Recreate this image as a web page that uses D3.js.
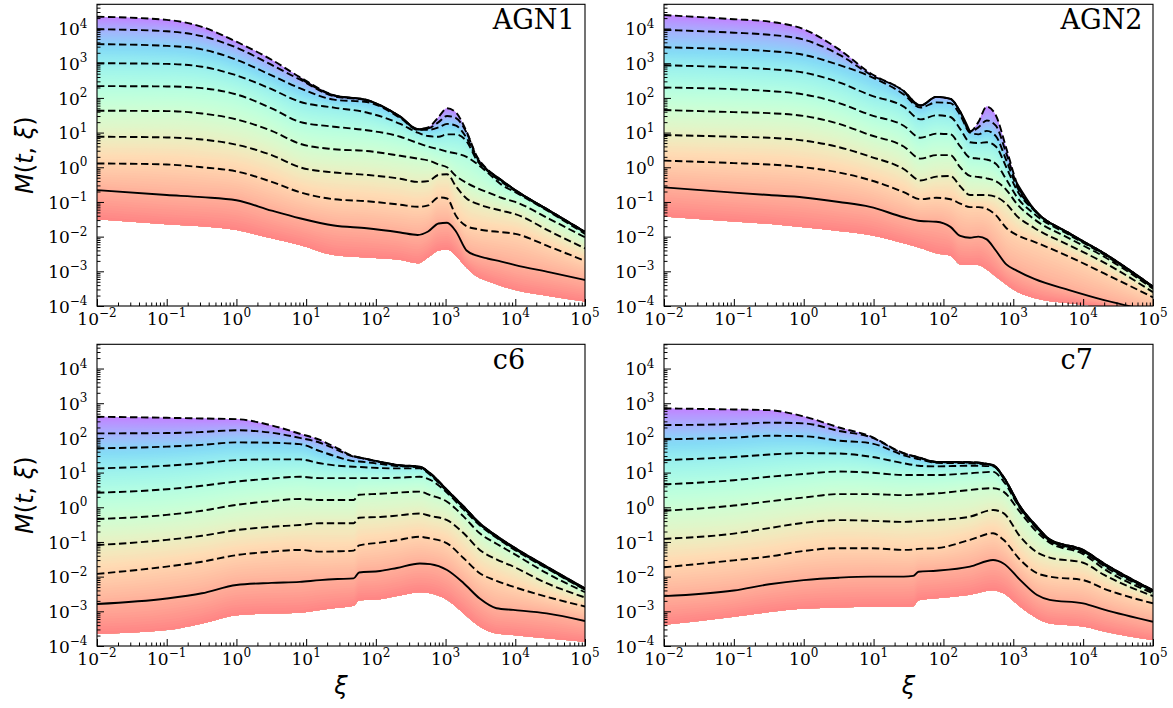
<!DOCTYPE html>
<html><head><meta charset="utf-8">
<script src="https://cdn.jsdelivr.net/npm/d3@7"></script>
<style>body{margin:0;background:#fff} svg{display:block}</style>
</head><body>
<svg id="chart" width="1173" height="708"></svg>
<script>
// ---------------- DATA ----------------
const xTickValues = [1e-2, 1e-1, 1, 1e1, 1e2, 1e3, 1e4, 1e5];
const xTickExps   = ["\u22122", "\u22121", "0", "1", "2", "3", "4", "5"];
const yTickValues = [1e-4, 1e-3, 1e-2, 1e-1, 1, 1e1, 1e2, 1e3, 1e4];
const yTickExps   = ["\u22124", "\u22123", "\u22122", "\u22121", "0", "1", "2", "3", "4"];
const panelLabels = ["AGN1", "AGN2", "c6", "c7"];

// AGN1
const agn1Xi = [0.01, 0.1, 0.32, 1, 3.2, 8.1, 25, 74, 224, 398, 562, 794, 1050, 1410, 2000, 2820, 3980, 6310, 1e4, 3.16e4, 1e5];
const agn1Dashed = [
  [21900, 17800, 11200, 4170, 1260, 398, 120, 87.1, 28.8, 12.6, 14.1, 28.2, 50.1, 38.0, 10.7, 2.04, 0.871, 0.427, 0.219, 0.055, 0.0138],
  [9550, 8320, 6030, 2820, 891, 339, 112, 85.1, 28.2, 12.3, 13.2, 20.0, 30.2, 26.3, 10.0, 1.91, 0.832, 0.417, 0.219, 0.055, 0.0138],
  [3550, 3160, 2510, 1260, 447, 191, 89.1, 75.9, 26.3, 12.0, 12.0, 14.1, 17.8, 15.8, 7.08, 1.78, 0.813, 0.398, 0.214, 0.0537, 0.0135],
  [1000, 955, 794, 447, 178, 77.6, 52.5, 38.0, 17.8, 10.0, 7.94, 7.59, 8.91, 8.91, 5.62, 1.58, 0.794, 0.380, 0.209, 0.0525, 0.0132],
  [219, 214, 191, 126, 50.1, 20.4, 14.8, 11.7, 7.59, 5.01, 3.98, 3.31, 2.82, 2.51, 2.00, 1.26, 0.708, 0.316, 0.191, 0.0501, 0.0120],
  [42.7, 41.7, 35.5, 24.0, 11.2, 4.79, 3.31, 2.95, 2.14, 1.78, 1.58, 1.20, 1.0, 0.562, 0.355, 0.251, 0.191, 0.132, 0.100, 0.0316, 0.00955],
  [7.59, 7.24, 6.31, 4.47, 2.24, 1.0, 0.708, 0.603, 0.468, 0.380, 0.398, 0.603, 0.631, 0.282, 0.126, 0.0891, 0.0708, 0.0562, 0.0447, 0.0141, 0.00457],
  [1.29, 1.20, 1.0, 0.759, 0.380, 0.191, 0.120, 0.105, 0.0832, 0.0724, 0.0794, 0.135, 0.126, 0.0398, 0.0200, 0.0166, 0.0148, 0.0135, 0.0120, 0.00501, 0.00200]
];
const agn1Initial = [0.219, 0.158, 0.138, 0.112, 0.0562, 0.0339, 0.0209, 0.0174, 0.0132, 0.0112, 0.0141, 0.0240, 0.0251, 0.0141, 0.00398, 0.00282, 0.00234, 0.00191, 0.00151, 0.000933, 0.000562];
const agn1Final = [null, null, null, null, null, 372, 117, 87.1, 28.8, 12.6, 13.2, null, null, null, null, null, 0.832, 0.427, 0.219, 0.055, 0.0138];
const agn1Lower = [0.0316, 0.0229, 0.0200, 0.0155, 0.00891, 0.00575, 0.00295, 0.00251, 0.00214, 0.00170, 0.00251, 0.00398, 0.00427, 0.00282, 0.00126, 0.000708, 0.000525, 0.00038, 0.000288, 0.000191, 0.000135];

// AGN2
const agn2Xi = [0.01, 0.1, 0.32, 1, 3.2, 8.9, 27, 47, 79, 126, 174, 240, 316, 417, 562, 794, 1120, 2000, 6310, 2e4, 1e5];
const agn2Dashed = [
  [24500, 18600, 15800, 9550, 2510, 525, 158, 60.3, 107, 93.3, 39.8, 10.7, 20.0, 56.2, 31.6, 3.55, 0.355, 0.0603, 0.0126, 0.00331, 0.000363],
  [9120, 7590, 6610, 4790, 1780, 479, 158, 60.3, 107, 93.3, 39.8, 10.7, 14.1, 22.4, 15.8, 2.51, 0.316, 0.0603, 0.0126, 0.00331, 0.000363],
  [2880, 2510, 2240, 1740, 891, 417, 126, 52.5, 74.1, 70.8, 31.6, 10.0, 8.91, 11.2, 7.94, 1.58, 0.282, 0.0589, 0.0123, 0.00324, 0.000355],
  [871, 759, 676, 537, 282, 120, 56.2, 24.0, 31.6, 28.2, 12.6, 5.25, 5.01, 5.25, 3.98, 1.0, 0.224, 0.0562, 0.0120, 0.00316, 0.000347],
  [200, 178, 158, 126, 70.8, 32.4, 15.8, 7.08, 9.33, 8.91, 3.98, 1.91, 1.78, 1.66, 1.26, 0.447, 0.141, 0.0447, 0.0112, 0.00302, 0.000339],
  [44.7, 38.9, 36.3, 30.2, 17.8, 8.51, 3.98, 1.78, 2.24, 2.24, 1.0, 0.562, 0.525, 0.479, 0.398, 0.224, 0.0891, 0.0316, 0.00891, 0.00263, 0.000316],
  [8.51, 7.59, 7.08, 5.89, 3.80, 2.04, 0.891, 0.417, 0.537, 0.562, 0.282, 0.158, 0.158, 0.158, 0.141, 0.0891, 0.0398, 0.0178, 0.00562, 0.00178, 0.000251],
  [1.55, 1.32, 1.20, 1.0, 0.708, 0.427, 0.191, 0.120, 0.132, 0.120, 0.0891, 0.0708, 0.0708, 0.0631, 0.0417, 0.0178, 0.0112, 0.00708, 0.00263, 0.000871, 0.000178]
];
const agn2Initial = [0.263, 0.186, 0.158, 0.135, 0.100, 0.0724, 0.0363, 0.0282, 0.0269, 0.0191, 0.0105, 0.00933, 0.0100, 0.00832, 0.00398, 0.00158, 0.00105, 0.000603, 0.000288, 0.000148, 0.0000708];
const agn2Final = [null, null, null, null, null, null, 158, 60.3, 107, 93.3, 39.8, 10.7, null, null, null, null, 0.355, 0.0603, 0.0126, 0.00331, 0.000363];
const agn2Lower = [0.0380, 0.0275, 0.0234, 0.0186, 0.0145, 0.0112, 0.00646, 0.00468, 0.00331, 0.00282, 0.00158, 0.00151, 0.00151, 0.00112, 0.000708, 0.000417, 0.000263, 0.00017, 0.00012, 0.0000955, 0.0000501];

// c6
const c6Xi = [0.01, 0.1, 0.32, 1, 3.2, 8.1, 15.8, 28.2, 47.9, 57.5, 115, 200, 427, 603, 1050, 1820, 3090, 5370, 9330, 2.82e4, 1e5];
const c6Dashed = [
  [407, 380, 363, 347, 229, 132, 87.1, 50.1, 29.5, 27.5, 20.4, 16.6, 14.8, 9.55, 3.16, 1.05, 0.347, 0.151, 0.0724, 0.0195, 0.00457],
  [135, 138, 148, 166, 141, 100, 72.4, 44.7, 28.8, 26.9, 20.0, 16.2, 14.5, 9.33, 3.09, 1.02, 0.339, 0.148, 0.0708, 0.0191, 0.00447],
  [50.1, 56.2, 63.1, 74.1, 72.4, 66.1, 41.7, 28.2, 21.4, 20.9, 17.8, 15.5, 14.1, 9.12, 3.02, 1.0, 0.331, 0.145, 0.0692, 0.0186, 0.00437],
  [13.2, 15.8, 18.6, 22.9, 24.0, 24.0, 18.6, 15.8, 14.8, 14.5, 13.5, 13.2, 13.2, 8.51, 2.88, 0.955, 0.324, 0.138, 0.0676, 0.0182, 0.00427],
  [2.63, 3.31, 4.17, 5.50, 6.76, 7.59, 6.92, 6.92, 6.92, 6.92, 6.92, 7.08, 7.59, 6.17, 2.63, 0.851, 0.302, 0.132, 0.0631, 0.0174, 0.00417],
  [0.457, 0.603, 0.794, 1.17, 1.51, 1.74, 1.62, 1.62, 1.62, 2.29, 2.45, 2.63, 2.82, 2.24, 1.45, 0.537, 0.178, 0.0891, 0.0468, 0.0126, 0.00355],
  [0.0813, 0.115, 0.151, 0.219, 0.275, 0.309, 0.347, 0.347, 0.347, 0.501, 0.525, 0.575, 0.661, 0.562, 0.427, 0.178, 0.0589, 0.0316, 0.0195, 0.00646, 0.00251],
  [0.0120, 0.0195, 0.0269, 0.0417, 0.0525, 0.0589, 0.0525, 0.0537, 0.0562, 0.0794, 0.0955, 0.112, 0.141, 0.126, 0.0912, 0.0339, 0.0126, 0.00759, 0.00513, 0.00263, 0.00138]
];
const c6Initial = [0.00162, 0.00234, 0.00331, 0.00575, 0.00661, 0.00708, 0.00794, 0.00851, 0.00891, 0.0132, 0.0145, 0.0178, 0.0240, 0.0229, 0.0155, 0.00646, 0.00234, 0.00123, 0.00110, 0.000871, 0.000525];
const c6Final = [null, null, null, null, null, null, null, null, 29.5, 27.5, 20.4, 16.6, 14.8, 9.55, 3.16, 1.05, 0.347, 0.151, 0.0724, 0.0195, 0.00457];
const c6Lower = [0.000224, 0.000288, 0.000447, 0.000776, 0.000871, 0.000912, 0.00110, 0.00126, 0.00145, 0.00209, 0.00224, 0.00275, 0.00355, 0.00331, 0.00214, 0.000871, 0.000363, 0.000229, 0.000209, 0.000166, 0.000132];

// c7
const c7Xi = [0.01, 0.1, 0.32, 1, 3.2, 8.9, 27, 37, 44, 79, 240, 513, 724, 1260, 2190, 3310, 1e4, 2e4, 1e5];
const c7Dashed = [
  [708, 661, 631, 417, 200, 112, 36.3, 30.2, 27.5, 20.4, 20.0, 16.6, 7.59, 1.05, 0.275, 0.120, 0.0589, 0.0240, 0.00407],
  [234, 251, 275, 263, 158, 107, 35.5, 29.5, 26.9, 20.0, 19.5, 16.2, 7.41, 1.02, 0.269, 0.117, 0.0575, 0.0234, 0.00398],
  [91.2, 102, 115, 112, 83.2, 70.8, 31.6, 26.3, 24.5, 19.1, 18.6, 15.8, 7.24, 1.0, 0.263, 0.115, 0.0562, 0.0229, 0.00389],
  [22.9, 28.2, 33.1, 36.3, 35.5, 28.8, 18.6, 16.6, 15.8, 15.1, 15.8, 15.1, 6.92, 0.955, 0.251, 0.110, 0.0537, 0.0219, 0.00380],
  [4.57, 6.03, 7.59, 9.12, 10.7, 10.0, 8.51, 8.51, 8.51, 8.51, 9.55, 10.5, 5.62, 0.891, 0.234, 0.105, 0.0501, 0.0200, 0.00363],
  [0.794, 1.12, 1.48, 1.91, 2.40, 2.40, 2.24, 2.29, 2.34, 2.51, 3.16, 3.55, 2.82, 0.708, 0.191, 0.0955, 0.0447, 0.0166, 0.00331],
  [0.123, 0.174, 0.251, 0.355, 0.427, 0.407, 0.380, 0.389, 0.398, 0.427, 0.537, 0.832, 0.676, 0.141, 0.0501, 0.0355, 0.0251, 0.0112, 0.00275],
  [0.0186, 0.0295, 0.0380, 0.0550, 0.0661, 0.0661, 0.0589, 0.0603, 0.0631, 0.0661, 0.115, 0.178, 0.115, 0.0302, 0.0126, 0.0100, 0.00794, 0.00447, 0.00170]
];
const c7Initial = [0.00275, 0.00398, 0.00603, 0.00794, 0.00933, 0.0100, 0.0100, 0.0105, 0.0138, 0.0148, 0.0195, 0.0302, 0.0240, 0.00794, 0.00295, 0.00214, 0.00170, 0.00112, 0.000501];
const c7Final = [null, null, null, null, null, null, null, 30.2, 27.5, 20.4, 20.0, 16.6, 7.59, 1.05, 0.275, 0.120, 0.0589, 0.0240, 0.00407];
const c7Lower = [0.000407, 0.000692, 0.000955, 0.00120, 0.00129, 0.00135, 0.00135, 0.00141, 0.00209, 0.00240, 0.00302, 0.00407, 0.00331, 0.00135, 0.000631, 0.000447, 0.000363, 0.000263, 0.000148];

// ---------------- LAYOUT / STYLE ----------------
const W = 1173, H = 708;
const colsX = [[97, 585], [664, 1153]];
const rowsY = [[4.3, 306], [344.3, 646]];
const xDomain = [1e-2, 1e5], yDomain = [1e-4, 5e4];
const serif = "'DejaVu Serif', serif";
const sans = "'DejaVu Sans', sans-serif";

const panels = [
  {xi: agn1Xi, dashed: agn1Dashed, initial: agn1Initial, final: agn1Final, lower: agn1Lower, col: 0, row: 0},
  {xi: agn2Xi, dashed: agn2Dashed, initial: agn2Initial, final: agn2Final, lower: agn2Lower, col: 1, row: 0},
  {xi: c6Xi, dashed: c6Dashed, initial: c6Initial, final: c6Final, lower: c6Lower, col: 0, row: 1},
  {xi: c7Xi, dashed: c7Dashed, initial: c7Initial, final: c7Final, lower: c7Lower, col: 1, row: 1}
];

// matplotlib "rainbow" colormap blended over white (alpha)
function bandColor(t) {
  const r = Math.min(1, Math.abs(2 * t - 0.5)), g = Math.sin(Math.PI * t), b = Math.cos(Math.PI * t / 2);
  const a = 0.48;
  return d3.rgb(255 * (1 - a + a * r), 255 * (1 - a + a * g), 255 * (1 - a + a * b)).formatHex();
}

const svg = d3.select("#chart");
svg.append("rect").attr("width", W).attr("height", H).attr("fill", "#fff");
const defs = svg.append("defs");

function minorTicks() {
  const out = [];
  for (let e = -5; e <= 5; e++) for (let k = 2; k <= 9; k++) out.push(k * Math.pow(10, e));
  return out;
}
const minors = minorTicks();

panels.forEach((p, pi) => {
  const [xa, xb] = colsX[p.col];
  const [ya, yb] = rowsY[p.row];
  const x = d3.scaleLog().domain(xDomain).range([xa, xb]);
  const y = d3.scaleLog().domain(yDomain).range([yb, ya]);

  const clipId = "clip" + pi;
  defs.append("clipPath").attr("id", clipId)
    .append("rect").attr("x", xa).attr("y", ya).attr("width", xb - xa).attr("height", yb - ya);
  const plot = svg.append("g").attr("clip-path", `url(#${clipId})`);

  const curves = [...p.dashed, p.initial, p.lower];
  const upper = p.xi.map((_, i) => d3.max([...curves, p.final], c => c[i]));
  const area = d3.area()
    .x((d, i) => x(p.xi[i]))
    .y0((d, i) => y(p.lower[i]))
    .y1(d => y(d))
    .curve(d3.curveMonotoneX);

  plot.append("path").attr("d", area(upper)).attr("fill", bandColor(0));
  const M = 12, K = curves.length - 1;
  for (let k = 0; k < K; k++) {
    for (let j = 0; j < M; j++) {
      const f = j / M;
      const sub = p.xi.map((_, i) => Math.exp(Math.log(curves[k][i]) * (1 - f) + Math.log(curves[k + 1][i]) * f));
      plot.append("path").attr("d", area(sub)).attr("fill", bandColor((k + f + 0.5 / M) / K));
    }
  }

  const line = d3.line()
    .defined(d => d != null)
    .x((d, i) => x(p.xi[i]))
    .y(d => y(d))
    .curve(d3.curveMonotoneX);

  p.dashed.forEach(c => {
    plot.append("path").attr("d", line(c)).attr("fill", "none")
      .attr("stroke", "#000").attr("stroke-width", 1.9).attr("stroke-dasharray", "7.4,3.6");
  });
  [p.initial, p.final].forEach(c => {
    plot.append("path").attr("d", line(c)).attr("fill", "none")
      .attr("stroke", "#000").attr("stroke-width", 1.9);
  });

  // axes (ticks inward)
  const gx = svg.append("g").attr("transform", `translate(0,${yb})`)
    .call(d3.axisBottom(x).tickValues(xTickValues).tickSize(-7).tickFormat(""));
  const gxm = svg.append("g").attr("transform", `translate(0,${yb})`)
    .call(d3.axisBottom(x).tickValues(minors.filter(v => v > xDomain[0] && v < xDomain[1])).tickSize(-3.5).tickFormat(""));
  const gy = svg.append("g").attr("transform", `translate(${xa},0)`)
    .call(d3.axisLeft(y).tickValues(yTickValues).tickSize(-7).tickFormat(""));
  const gym = svg.append("g").attr("transform", `translate(${xa},0)`)
    .call(d3.axisLeft(y).tickValues(minors.filter(v => v > yDomain[0] && v <= yDomain[1])).tickSize(-3.5).tickFormat(""));
  [gx, gxm, gy, gym].forEach(g => {
    g.select(".domain").remove();
    g.selectAll(".tick line").attr("stroke", "#000").attr("stroke-width", 1);
  });

  // frame
  svg.append("rect").attr("x", xa).attr("y", ya).attr("width", xb - xa).attr("height", yb - ya)
    .attr("fill", "none").attr("stroke", "#000").attr("stroke-width", 1.1);

  // tick labels
  xTickValues.forEach((v, i) => {
    const t = svg.append("text").attr("x", x(v)).attr("y", yb + 19)
      .attr("text-anchor", "middle").attr("font-family", serif).attr("font-size", 17).attr("fill", "#000");
    t.append("tspan").text("10");
    t.append("tspan").attr("dy", -7.8).attr("font-size", 12).text(xTickExps[i]);
  });
  yTickValues.forEach((v, i) => {
    const t = svg.append("text").attr("x", xa - 9.5).attr("y", y(v) + 6.8)
      .attr("text-anchor", "end").attr("font-family", serif).attr("font-size", 17).attr("fill", "#000");
    t.append("tspan").text("10");
    t.append("tspan").attr("dy", -7.8).attr("font-size", 12).text(yTickExps[i]);
  });

  // panel label
  svg.append("text").attr("x", xa + 0.811 * (xb - xa)).attr("y", ya + 25)
    .attr("font-family", serif).attr("font-size", 27).attr("fill", "#000")
    .text(panelLabels[pi]);

  // y label (left column)
  if (p.col === 0) {
    const cy = (ya + yb) / 2;
    const t = svg.append("text").attr("transform", `translate(33,${cy}) rotate(-90)`)
      .attr("text-anchor", "middle").attr("font-family", sans).attr("font-size", 24).attr("fill", "#000");
    t.append("tspan").attr("font-style", "italic").text("M");
    t.append("tspan").text("(");
    t.append("tspan").attr("font-style", "italic").text("t");
    t.append("tspan").text(", ");
    t.append("tspan").attr("font-style", "italic").text("\u03BE");
    t.append("tspan").text(")");
  }
  // x label (bottom row)
  if (p.row === 1) {
    svg.append("text").attr("x", (xa + xb) / 2).attr("y", 694)
      .attr("text-anchor", "middle").attr("font-family", sans).attr("font-size", 24)
      .attr("font-style", "italic").attr("fill", "#000").text("\u03BE");
  }
});
</script>
</body></html>
